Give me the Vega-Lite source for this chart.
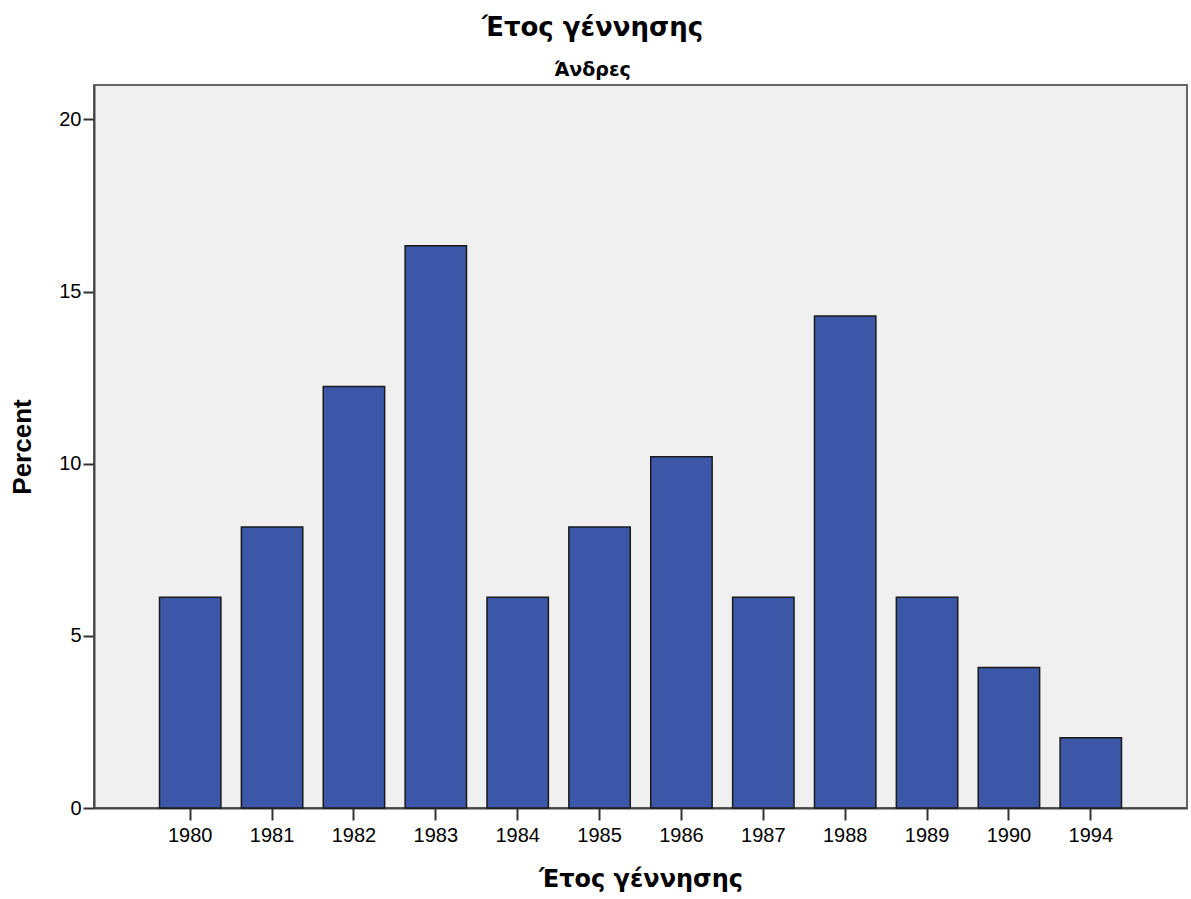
{
  "$schema": "https://vega.github.io/schema/vega-lite/v6.json",
  "width": 1093,
  "height": 723,
  "autosize": "none",
  "padding": {"left": 94, "top": 85, "right": 4, "bottom": 91},
  "background": "white",
  "title": {
    "text": "Έτος γέννησης",
    "subtitle": "Άνδρες",
    "anchor": "middle",
    "dx": -48,
    "offset": 5,
    "font": "DejaVu Sans",
    "fontSize": 26,
    "fontWeight": "bold",
    "color": "#000000",
    "subtitleFont": "DejaVu Sans",
    "subtitleFontSize": 19,
    "subtitleFontWeight": "bold",
    "subtitleColor": "#000000",
    "subtitlePadding": 20
  },
  "data": {
    "values": [
      {"year": "1980", "percent": 6.12},
      {"year": "1981", "percent": 8.16},
      {"year": "1982", "percent": 12.24},
      {"year": "1983", "percent": 16.33},
      {"year": "1984", "percent": 6.12},
      {"year": "1985", "percent": 8.16},
      {"year": "1986", "percent": 10.20},
      {"year": "1987", "percent": 6.12},
      {"year": "1988", "percent": 14.29},
      {"year": "1989", "percent": 6.12},
      {"year": "1990", "percent": 4.08},
      {"year": "1994", "percent": 2.04}
    ]
  },
  "mark": {"type": "bar", "color": "#3C56A8", "stroke": "#1a1a1a", "strokeWidth": 1.5},
  "encoding": {
    "x": {
      "field": "year",
      "type": "ordinal",
      "sort": null,
      "scale": {"paddingInner": 0.25, "paddingOuter": 0.8},
      "axis": {
        "title": "Έτος γέννησης",
        "titleFont": "DejaVu Sans",
        "titleFontSize": 24,
        "titleFontWeight": "bold",
        "titleColor": "#000000",
        "titlePadding": 22,
        "labelAngle": 0,
        "labelFont": "Liberation Sans",
        "labelFontSize": 20,
        "labelColor": "#000000",
        "labelPadding": 5,
        "tickSize": 12,
        "tickWidth": 2,
        "tickColor": "#333333",
        "domainColor": "#444444",
        "domainWidth": 2
      }
    },
    "y": {
      "field": "percent",
      "type": "quantitative",
      "scale": {"domain": [0, 21], "nice": false},
      "axis": {
        "title": "Percent",
        "values": [0, 5, 10, 15, 20],
        "grid": false,
        "titleFont": "Liberation Sans",
        "titleFontSize": 26,
        "titleFontWeight": "bold",
        "titleColor": "#000000",
        "titlePadding": 23,
        "labelFont": "Liberation Sans",
        "labelFontSize": 20,
        "labelColor": "#000000",
        "labelPadding": 2,
        "tickSize": 11,
        "tickWidth": 2,
        "tickColor": "#333333",
        "domainColor": "#444444",
        "domainWidth": 2
      }
    }
  },
  "config": {
    "view": {"fill": "#F0F0F0", "stroke": "#666666", "strokeWidth": 2}
  }
}
